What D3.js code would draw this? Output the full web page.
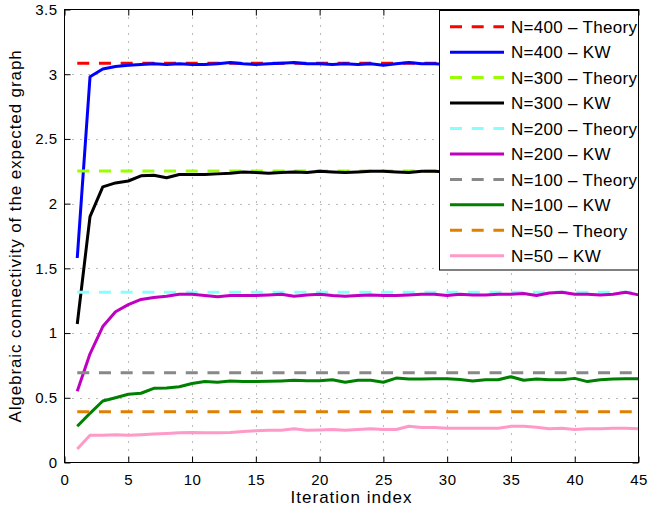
<!DOCTYPE html>
<html>
<head>
<meta charset="utf-8">
<script src="https://cdn.jsdelivr.net/npm/d3@7"></script>
<style>
  html, body { margin: 0; padding: 0; background: #fff; }
  svg { display: block; font-family: "Liberation Sans", Arial, Helvetica, sans-serif; }
</style>
</head>
<body>
<svg id="chart" width="648" height="508"></svg>
<script>
// ---------------- data ----------------
const iterations = d3.range(1, 46);
const xTicks = [0, 5, 10, 15, 20, 25, 30, 35, 40, 45];
const yTicks = [0, 0.5, 1, 1.5, 2, 2.5, 3, 3.5];
const yTickLabels = ["0", "0.5", "1", "1.5", "2", "2.5", "3", "3.5"];

const theory400 = 3.085;
const theory300 = 2.253;
const theory200 = 1.315;
const theory100 = 0.694;
const theory50 = 0.393;

const kw400 = [1.58, 2.98, 3.04, 3.06, 3.07, 3.075, 3.08, 3.075, 3.08, 3.075,
               3.075, 3.08, 3.09, 3.08, 3.075, 3.08, 3.085, 3.09, 3.08, 3.08,
               3.075, 3.08, 3.075, 3.08, 3.07, 3.08, 3.09, 3.08, 3.08, 3.075,
               3.08, 3.085, 3.08, 3.075, 3.08, 3.085, 3.08, 3.075, 3.08, 3.08,
               3.085, 3.08, 3.075, 3.08, 3.08];
const kw300 = [1.07, 1.90, 2.13, 2.16, 2.175, 2.215, 2.22, 2.20, 2.225, 2.225,
               2.225, 2.23, 2.235, 2.245, 2.24, 2.235, 2.24, 2.245, 2.24, 2.25,
               2.245, 2.24, 2.245, 2.25, 2.25, 2.245, 2.24, 2.25, 2.25, 2.245,
               2.25, 2.245, 2.25, 2.255, 2.245, 2.25, 2.245, 2.25, 2.255, 2.25,
               2.245, 2.25, 2.25, 2.245, 2.25];
const kw200 = [0.55, 0.84, 1.05, 1.165, 1.22, 1.26, 1.275, 1.285, 1.30, 1.30,
               1.29, 1.28, 1.29, 1.29, 1.29, 1.295, 1.30, 1.285, 1.295, 1.30,
               1.29, 1.285, 1.29, 1.295, 1.29, 1.29, 1.295, 1.30, 1.30, 1.29,
               1.30, 1.295, 1.295, 1.30, 1.30, 1.305, 1.29, 1.31, 1.315, 1.30,
               1.30, 1.295, 1.30, 1.315, 1.295];
const kw100 = [0.28, 0.38, 0.475, 0.50, 0.527, 0.535, 0.573, 0.575, 0.585, 0.61,
               0.625, 0.62, 0.63, 0.625, 0.625, 0.627, 0.63, 0.635, 0.632, 0.632,
               0.64, 0.62, 0.635, 0.635, 0.62, 0.652, 0.645, 0.645, 0.648, 0.648,
               0.642, 0.63, 0.64, 0.64, 0.663, 0.635, 0.645, 0.64, 0.64, 0.65,
               0.625, 0.64, 0.645, 0.648, 0.648];
const kw50 = [0.105, 0.21, 0.21, 0.215, 0.21, 0.215, 0.22, 0.225, 0.23, 0.232,
              0.23, 0.23, 0.232, 0.24, 0.245, 0.25, 0.25, 0.26, 0.25, 0.252,
              0.255, 0.25, 0.255, 0.26, 0.255, 0.255, 0.28, 0.27, 0.27, 0.265,
              0.265, 0.265, 0.265, 0.265, 0.28, 0.28, 0.272, 0.26, 0.265, 0.255,
              0.26, 0.26, 0.265, 0.265, 0.26];

const seriesNames = ["N=400 \u2013 Theory", "N=400 \u2013 KW", "N=300 \u2013 Theory", "N=300 \u2013 KW",
                     "N=200 \u2013 Theory", "N=200 \u2013 KW", "N=100 \u2013 Theory", "N=100 \u2013 KW",
                     "N=50 \u2013 Theory", "N=50 \u2013 KW"];
const seriesColors = ["#ff0000", "#0000ff", "#99ff00", "#000000", "#88ffff", "#c000c0",
                      "#888888", "#008000", "#e08000", "#ff99c8"];
const seriesValues = [
  iterations.map(() => theory400), kw400,
  iterations.map(() => theory300), kw300,
  iterations.map(() => theory200), kw200,
  iterations.map(() => theory100), kw100,
  iterations.map(() => theory50), kw50
];

// ---------------- layout ----------------
const svg = d3.select("#chart");
const L = 64.5, R = 638.5, T = 9.5, B = 462.5;
const x = d3.scaleLinear().domain([0, 45]).range([L, R]);
const y = d3.scaleLinear().domain([0, 3.5]).range([B, T]);

// grid
const grid = svg.append("g");
xTicks.slice(1, -1).forEach(t => {
  grid.append("line").attr("x1", Math.round(x(t)) + 0.5).attr("x2", Math.round(x(t)) + 0.5)
    .attr("y1", T).attr("y2", B)
    .attr("stroke", "#777").attr("stroke-width", 1).attr("stroke-dasharray", "1,7");
});
yTicks.slice(1, -1).forEach(t => {
  grid.append("line").attr("y1", Math.round(y(t)) + 0.5).attr("y2", Math.round(y(t)) + 0.5)
    .attr("x1", L).attr("x2", R)
    .attr("stroke", "#777").attr("stroke-width", 1).attr("stroke-dasharray", "1,7");
});

// series
const line = d3.line().x((d, i) => x(iterations[i])).y(d => y(d));
seriesValues.forEach((vals, k) => {
  const dashed = k % 2 === 0;
  svg.append("path")
    .datum(vals)
    .attr("d", line)
    .attr("fill", "none")
    .attr("stroke", seriesColors[k])
    .attr("stroke-width", 3)
    .attr("stroke-linejoin", "round")
    .attr("stroke-dasharray", dashed ? "12,9.7" : null);
});

// axes box
svg.append("rect").attr("x", L).attr("y", T).attr("width", R - L).attr("height", B - T)
  .attr("fill", "none").attr("stroke", "#000").attr("stroke-width", 1);

// axes with inward ticks
const xAxis = d3.axisBottom(x).tickValues(xTicks).tickSize(-6).tickPadding(12).tickFormat(d3.format("d"));
const yAxis = d3.axisLeft(y).tickValues(yTicks).tickSize(-6).tickPadding(7).tickFormat((d, i) => yTickLabels[i]);
const xAxisTop = d3.axisTop(x).tickValues(xTicks).tickSize(-6).tickFormat("");
const yAxisRight = d3.axisRight(y).tickValues(yTicks).tickSize(-6).tickFormat("");

function styleAxis(g) {
  g.select(".domain").remove();
  g.selectAll(".tick line").attr("stroke", "#000");
  g.selectAll(".tick text").attr("fill", "#000").style("font-size", "15px").style("letter-spacing", "0.5px");
}
svg.append("g").attr("transform", `translate(0,${B})`).call(xAxis).call(styleAxis);
svg.append("g").attr("transform", `translate(${L},0)`).call(yAxis).call(styleAxis);
svg.append("g").attr("transform", `translate(0,${T})`).call(xAxisTop).call(styleAxis);
svg.append("g").attr("transform", `translate(${R},0)`).call(yAxisRight).call(styleAxis);

// axis labels
svg.append("text").attr("x", (L + R) / 2).attr("y", 503).attr("text-anchor", "middle")
  .style("font-size", "17px").style("letter-spacing", "1px").text("Iteration index");
svg.append("text").attr("transform", `translate(21,${(T + B) / 2}) rotate(-90)`).attr("text-anchor", "middle")
  .style("font-size", "17px").style("letter-spacing", "0.9px").text("Algebraic connectivity of the expected graph");

// legend
const lg = svg.append("g");
lg.append("rect").attr("x", 439.5).attr("y", 10.5).attr("width", 199).attr("height", 259.5)
  .attr("fill", "#fff").attr("stroke", "#000").attr("stroke-width", 1);
seriesNames.forEach((name, k) => {
  const cy = 26.7 + k * 25.45;
  lg.append("line").attr("x1", 450).attr("x2", 504).attr("y1", cy).attr("y2", cy)
    .attr("stroke", seriesColors[k]).attr("stroke-width", 3)
    .attr("stroke-dasharray", k % 2 === 0 ? "12,9.7" : null);
  lg.append("text").attr("x", 511).attr("y", cy + 6.3)
    .style("font-size", "17px").style("letter-spacing", "0.3px").text(name);
});
</script>
</body>
</html>
